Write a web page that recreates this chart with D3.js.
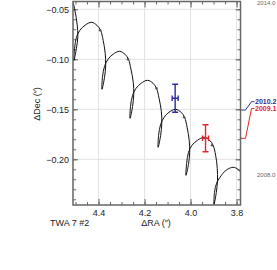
<!DOCTYPE html>
<meta charset="utf-8">
<html>
<style>
  body { margin: 0; background: #fff; }
  .tick-label { font-family: "Liberation Sans", Arial, sans-serif; font-size: 9px; fill: #222; }
  .title { font-family: "Liberation Sans", Arial, sans-serif; font-size: 9px; fill: #222; }
  .epoch { font-family: "Liberation Sans", Arial, sans-serif; font-size: 6px; fill: #666; }
</style>
<body>
<svg width="277" height="270"></svg>
<script src="https://d3js.org/d3.v7.min.js"></script>
<script>

// orbit track (delta RA, delta Dec in arcsec)
var trackRA = [4.528, 4.513, 4.502, 4.493, 4.490, 4.496, 4.507,
  4.504, 4.496, 4.481, 4.459, 4.430, 4.407, 4.391, 4.380, 4.371, 4.369, 4.374, 4.385,
  4.383, 4.374, 4.359, 4.337, 4.309, 4.285, 4.270, 4.259, 4.249, 4.247, 4.252, 4.263,
  4.261, 4.252, 4.237, 4.215, 4.187, 4.163, 4.148, 4.137, 4.127, 4.125, 4.130, 4.141,
  4.139, 4.130, 4.115, 4.094, 4.065, 4.041, 4.026, 4.015, 4.006, 4.004, 4.009, 4.020,
  4.017, 4.009, 3.994, 3.970, 3.941, 3.917, 3.902, 3.891, 3.884, 3.883, 3.888, 3.898,
  3.896, 3.887, 3.872, 3.846, 3.815, 3.794, 3.778, 3.767, 3.759, 3.757];
var trackDec = [-0.037, -0.042, -0.052, -0.065, -0.077, -0.089, -0.101,
  -0.089, -0.078, -0.071, -0.066, -0.063, -0.066, -0.071, -0.081, -0.094, -0.106, -0.118, -0.130,
  -0.118, -0.107, -0.100, -0.095, -0.092, -0.095, -0.100, -0.110, -0.123, -0.135, -0.147, -0.159,
  -0.147, -0.136, -0.129, -0.124, -0.121, -0.124, -0.129, -0.139, -0.152, -0.164, -0.176, -0.188,
  -0.176, -0.165, -0.158, -0.153, -0.150, -0.153, -0.158, -0.168, -0.181, -0.193, -0.205, -0.216,
  -0.204, -0.193, -0.186, -0.181, -0.178, -0.181, -0.186, -0.196, -0.209, -0.221, -0.233, -0.245,
  -0.233, -0.224, -0.218, -0.211, -0.208, -0.210, -0.215, -0.224, -0.237, -0.249];

// yearly marks on the track
var markRA = [4.393, 4.272, 4.148, 4.028, 3.907];
var markDec = [-0.071, -0.100, -0.129, -0.158, -0.186];

// measurements
var obsEpoch = [2010.2, 2009.1];
var obsRA = [4.067, 3.935];
var obsRAErr = [0.013, 0.013];
var obsDec = [-0.139, -0.179];
var obsDecErr = [0.014, 0.0135];
var obsColor = ["#2b2b9e", "#e3262b"];
var obsLabelY = [104, 110.8];

var xTicks = [4.4, 4.2, 4.0, 3.8];
var yTicks = [-0.05, -0.10, -0.15, -0.20];
var timeEnds = [2014.0, 2008.0];

var svg = d3.select("svg");
var pL = 73, pR = 240.5, pT = 1.5, pB = 205;

var x = d3.scaleLinear().domain([4.511, 3.783]).range([pL, pR]);
var y = d3.scaleLinear().domain([-0.2457, -0.0422]).range([pB, pT]);
var t = d3.scaleLinear().domain([2008, 2014]).range([166.6, 12.3]);

svg.append("defs").append("clipPath").attr("id", "plot")
  .append("rect").attr("x", pL).attr("y", pT)
  .attr("width", pR - pL).attr("height", pB - pT);

// grid
svg.append("g").selectAll("line").data(xTicks).enter().append("line")
  .attr("x1", function(d) { return x(d); }).attr("x2", function(d) { return x(d); })
  .attr("y1", pT).attr("y2", pB)
  .attr("stroke", "#e2e2e2").attr("stroke-width", 1);
svg.append("g").selectAll("line").data(yTicks).enter().append("line")
  .attr("y1", function(d) { return y(d); }).attr("y2", function(d) { return y(d); })
  .attr("x1", pL).attr("x2", pR)
  .attr("stroke", "#e2e2e2").attr("stroke-width", 1);

// axes, ticks inward on all four sides
var fmtX = d3.format(".1f");
var fmtY = function(d) { return d3.format(".2f")(d).replace("-", "\u2212"); };

var bottomAxis = d3.axisBottom(x).tickValues(xTicks).tickSize(-6).tickPadding(4.5).tickFormat(fmtX);
var topAxis = d3.axisTop(x).tickValues(xTicks).tickSize(-6).tickFormat("");
var leftAxis = d3.axisLeft(y).tickValues(yTicks).tickSize(-5).tickPadding(4).tickFormat(fmtY);
var rightAxis = d3.axisRight(y).tickValues(yTicks).tickSize(-5).tickFormat("");

var xMinor = d3.range(3.8, 4.51, 0.05).map(function(d) { return +d.toFixed(2); });
var yMinor = d3.range(-0.24, -0.04, 0.01).map(function(d) { return +d.toFixed(2); });

function styleAxis(g) {
  g.select(".domain").remove();
  g.selectAll(".tick line").attr("stroke", "#666").attr("stroke-width", 1);
  g.selectAll(".tick text").attr("class", "tick-label").attr("fill", null)
    .attr("font-size", null).attr("font-family", null);
  g.attr("font-size", null).attr("font-family", null);
}

svg.append("g").attr("transform", "translate(0," + pB + ")").call(bottomAxis).call(styleAxis);
svg.append("g").attr("transform", "translate(0," + pT + ")").call(topAxis).call(styleAxis);
svg.append("g").attr("transform", "translate(" + pL + ",0)").call(leftAxis).call(styleAxis);
svg.append("g").attr("transform", "translate(" + pR + ",0)").call(rightAxis).call(styleAxis);

svg.append("g").attr("transform", "translate(0," + pB + ")")
  .call(d3.axisBottom(x).tickValues(xMinor).tickSize(-3).tickFormat("")).call(styleAxis);
svg.append("g").attr("transform", "translate(0," + pT + ")")
  .call(d3.axisTop(x).tickValues(xMinor).tickSize(-3).tickFormat("")).call(styleAxis);
svg.append("g").attr("transform", "translate(" + pL + ",0)")
  .call(d3.axisLeft(y).tickValues(yMinor).tickSize(-3).tickFormat("")).call(styleAxis);
svg.append("g").attr("transform", "translate(" + pR + ",0)")
  .call(d3.axisRight(y).tickValues(yMinor).tickSize(-3).tickFormat("")).call(styleAxis);

// track
var track = trackRA.map(function(d, i) { return [d, trackDec[i]]; });
var line = d3.line()
  .x(function(d) { return x(d[0]); })
  .y(function(d) { return y(d[1]); })
  .curve(d3.curveCatmullRom);

var plot = svg.append("g").attr("clip-path", "url(#plot)");
plot.append("path").datum(track)
  .attr("d", line).attr("fill", "none")
  .attr("stroke", "#111").attr("stroke-width", 1);

plot.selectAll(".mark").data(markRA).enter().append("circle")
  .attr("class", "mark")
  .attr("cx", function(d) { return x(d); })
  .attr("cy", function(d, i) { return y(markDec[i]); })
  .attr("r", 1.2).attr("fill", "#555");

// measurements with error bars
var obs = svg.append("g").selectAll("g").data(obsRA).enter().append("g")
  .attr("stroke", function(d, i) { return obsColor[i]; })
  .attr("stroke-width", 1.4).attr("fill", "none");

obs.append("path").attr("d", function(d, i) {
  var cx = x(d), cy = y(obsDec[i]);
  var y0 = y(obsDec[i] + obsDecErr[i]), y1 = y(obsDec[i] - obsDecErr[i]);
  var x0 = x(d + obsRAErr[i]), x1 = x(d - obsRAErr[i]);
  return "M" + cx + "," + y0 + "V" + y1 +
    "M" + (cx - 3) + "," + y0 + "H" + (cx + 3) +
    "M" + (cx - 3) + "," + y1 + "H" + (cx + 3) +
    "M" + x0 + "," + cy + "H" + x1 +
    "M" + x0 + "," + (cy - 2.7) + "V" + (cy + 2.7) +
    "M" + x1 + "," + (cy - 2.7) + "V" + (cy + 2.7);
});

// epoch leaders on the right
obsEpoch.forEach(function(e, i) {
  var ty = t(e), ly = obsLabelY[i] - 2.3;
  svg.append("path")
    .attr("d", "M" + (pR + 0.5) + "," + ty + "H245.5L251.5," + ly + "H254.5")
    .attr("fill", "none").attr("stroke", obsColor[i]).attr("stroke-width", 1);
  svg.append("text").attr("x", 255).attr("y", obsLabelY[i])
    .attr("fill", obsColor[i])
    .style("font-family", "Liberation Sans, Arial, sans-serif")
    .style("font-size", "7px").style("font-weight", "bold")
    .text(e.toFixed(1));
});

svg.append("text").attr("class", "epoch").attr("x", 257).attr("y", t(timeEnds[0]) - 7.2).text(timeEnds[0].toFixed(1));
svg.append("text").attr("class", "epoch").attr("x", 257).attr("y", t(timeEnds[1]) + 10.6).text(timeEnds[1].toFixed(1));

// frame
svg.append("rect").attr("x", pL).attr("y", pT)
  .attr("width", pR - pL).attr("height", pB - pT)
  .attr("fill", "none").attr("stroke", "#666").attr("stroke-width", 1.5);

// titles
svg.append("text").attr("class", "title").attr("x", 156).attr("y", 226)
  .attr("text-anchor", "middle").text("\u0394RA (\u2033)");
svg.append("text").attr("class", "title")
  .attr("transform", "translate(40,104) rotate(-90)")
  .attr("text-anchor", "middle").text("\u0394Dec (\u2033)");
svg.append("text").attr("class", "title").attr("x", 50).attr("y", 226).text("TWA 7 #2");

</script>
</body>
</html>
